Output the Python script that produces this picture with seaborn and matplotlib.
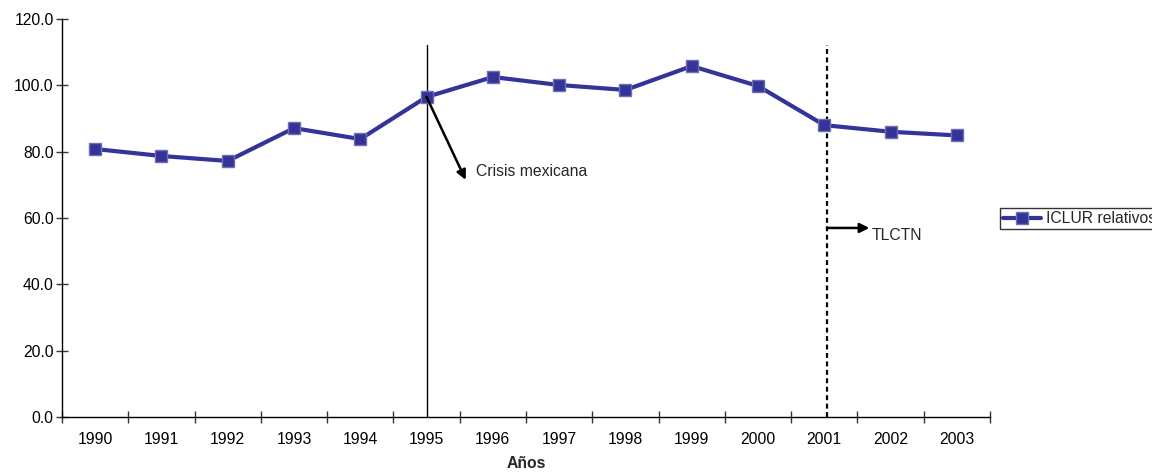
import matplotlib
matplotlib.use("Agg")
import matplotlib.pyplot as plt
from matplotlib.ticker import FixedLocator, NullFormatter, FixedFormatter
import seaborn as sns
import pandas as pd
import numpy as np

# Data
years = ["1990", "1991", "1992", "1993", "1994", "1995", "1996",
         "1997", "1998", "1999", "2000", "2001", "2002", "2003"]
iclur = [80.8, 78.7, 77.2, 87.1, 83.8, 96.5, 102.5,
         100.1, 98.6, 105.8, 99.8, 88.0, 86.0, 84.9]
series_name = "ICLUR relativos"
title_text = "1990-2003"
x_label = "Años"
y_ticks = [0, 20, 40, 60, 80, 100, 120]
crisis_year = "1995"
crisis_label = "Crisis mexicana"
tlc_year = "2001"
tlc_label = "TLCTN"

sns.set_theme(style="white")
plt.rcParams["font.family"] = ["Liberation Sans", "DejaVu Sans"]

FS = 11.3

df = pd.DataFrame({"Año": years, series_name: iclur})

fig = plt.figure(figsize=(11.52, 4.72), dpi=100)
ax = fig.add_axes([62 / 1152, 55 / 472, 928 / 1152, 398 / 472])

line_color = "#333399"
sns.lineplot(data=df, x="Año", y=series_name, ax=ax, color=line_color,
             linewidth=3.0, marker="s", markersize=8,
             markerfacecolor=line_color, markeredgecolor="#7070b0",
             markeredgewidth=1.0, label=series_name, sort=False)

n = len(years)
ax.set_xlim(-0.5, n - 0.5)
ax.set_ylim(0, 120)

# Category ticks sit between years; labels sit at the year centres
ax.xaxis.set_major_locator(FixedLocator(np.arange(n + 1) - 0.5))
ax.xaxis.set_major_formatter(NullFormatter())
ax.xaxis.set_minor_locator(FixedLocator(np.arange(n)))
ax.xaxis.set_minor_formatter(FixedFormatter(years))
ax.tick_params(axis="x", which="major", direction="inout", length=8,
               width=1, color="#333333", bottom=True)
ax.tick_params(axis="x", which="minor", length=0, pad=11, labelsize=FS,
               bottom=True, labelcolor="black")

ax.set_yticks(y_ticks)
ax.set_yticklabels([f"{v:.1f}" for v in y_ticks])
ax.tick_params(axis="y", direction="inout", length=8, width=1, color="#333333",
               labelsize=FS, left=True, pad=2, labelcolor="black")

for side in ["top", "right"]:
    ax.spines[side].set_visible(False)
for side in ["left", "bottom"]:
    ax.spines[side].set_color("black")
    ax.spines[side].set_linewidth(1.0)

ax.set_xlabel(x_label, fontsize=FS, fontweight="bold", labelpad=6)
ax.set_ylabel("")

# Reference lines
xc = years.index(crisis_year)
xt = years.index(tlc_year)
ax.plot([xc, xc], [0, 112.2], color="black", linewidth=1.0, zorder=1)
ax.plot([xt + 0.04, xt + 0.04], [0, 112.2], color="black", linewidth=1.6,
        linestyle=(0, (2.2, 1.6)), zorder=1)

# Annotations
yc = iclur[xc]
ax.annotate("", xy=(xc + 0.59, 71.5), xytext=(xc, yc),
            arrowprops=dict(arrowstyle="-|>", color="black", lw=1.8,
                            mutation_scale=14, shrinkA=0, shrinkB=0))
ax.text(xc + 0.74, 74.0, crisis_label, fontsize=FS, va="center", ha="left")

ax.annotate("", xy=(xt + 0.68, 57.0), xytext=(xt + 0.04, 57.0),
            arrowprops=dict(arrowstyle="-|>", color="black", lw=1.8,
                            mutation_scale=14, shrinkA=0, shrinkB=0))
ax.text(xt + 0.72, 54.8, tlc_label, fontsize=FS, va="center", ha="left")

# Legend at the right edge
ax.legend(loc="center left", bbox_to_anchor=(1000 / 1152, 1 - 218.5 / 472),
          bbox_transform=fig.transFigure, frameon=True, fancybox=False,
          edgecolor="black", fontsize=FS, handlelength=2.4,
          borderpad=0.2, handletextpad=0.3, borderaxespad=0)
leg = ax.get_legend()
leg.get_frame().set_linewidth(1.0)

fig.text(568 / 1152, 1 - 2 / 472, title_text, ha="center", va="bottom",
         fontsize=FS, fontweight="bold", color="black")

fig.savefig("out.png", dpi=100)
